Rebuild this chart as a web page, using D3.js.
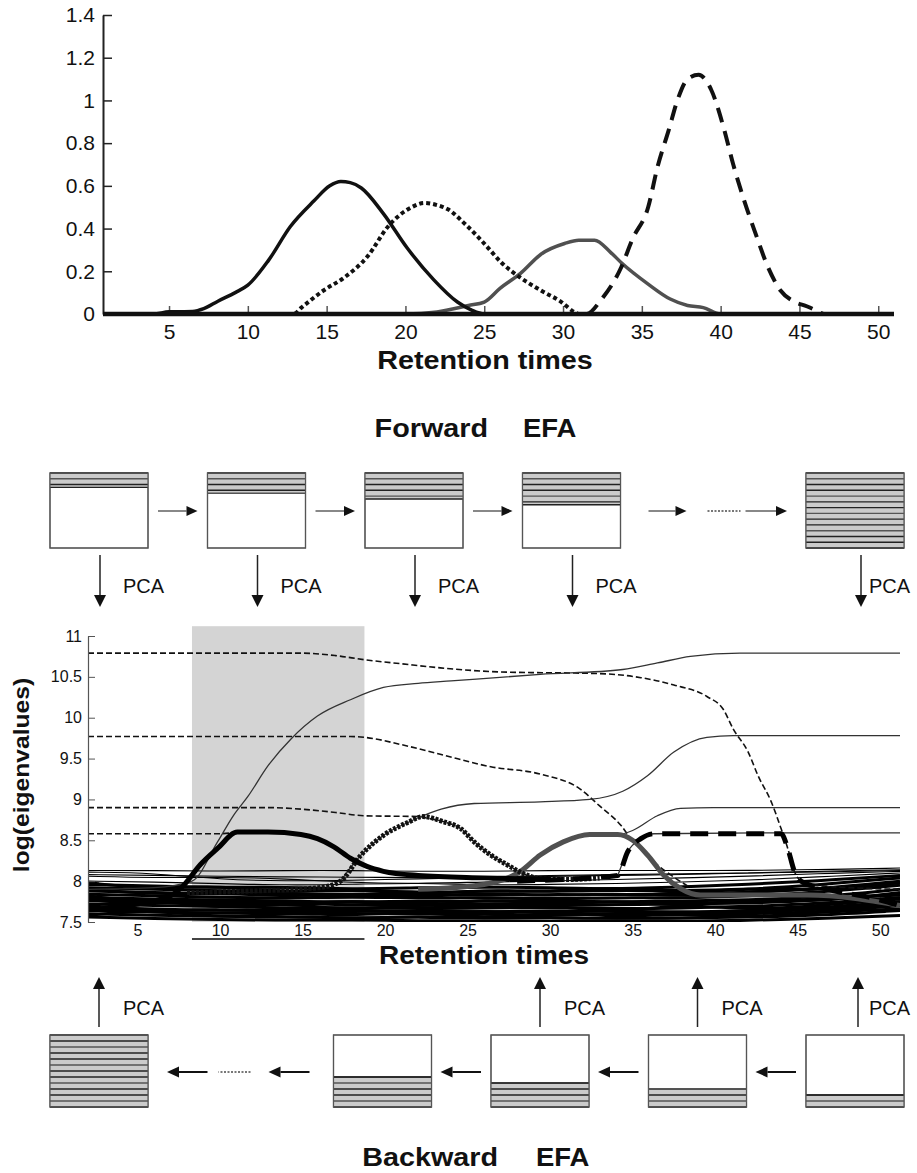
<!DOCTYPE html>
<html>
<head>
<meta charset="utf-8">
<script src="https://cdnjs.cloudflare.com/ajax/libs/d3/7.8.5/d3.min.js"></script>
<style>
  body { margin: 0; background: #fff; }
  text { font-family: "Liberation Sans", Arial, sans-serif; fill: #111; }
</style>
</head>
<body>
<svg id="fig" width="917" height="1173"></svg>
<script>
// ---------- data: concentration profiles (top panel) ----------
var topXTicks = [5, 10, 15, 20, 25, 30, 35, 40, 45, 50];
var topYTicks = [0, 0.2, 0.4, 0.6, 0.8, 1, 1.2, 1.4];

var prof1 = [[1,0],[4,0],[5,0.01],[6.5,0.012],[7.2,0.025],[8.1,0.06],[9.2,0.1],[10,0.135],[11.3,0.25],[12.7,0.41],
  [14.2,0.53],[15.2,0.6],[15.9,0.62],[16.5,0.615],[17.2,0.59],[18.6,0.47],[20.1,0.31],[21.8,0.16],
  [23.3,0.056],[24.2,0.018],[25,0],[51,0]];
var prof2 = [[1,0],[12.9,0],[13.4,0.03],[14.8,0.11],[16.1,0.17],[17.6,0.27],[18.9,0.41],[20.4,0.5],
  [21.2,0.52],[22,0.51],[22.7,0.49],[23.8,0.42],[25,0.33],[26.1,0.24],[27.3,0.17],[28.6,0.11],
  [29.9,0.056],[30.7,0.01],[31,0]];
var prof3 = [[1,0],[20,0],[22,0.01],[24,0.04],[25,0.056],[26,0.12],[27.3,0.19],[28.6,0.28],[30.1,0.33],
  [31,0.345],[32,0.345],[33,0.29],[33.7,0.24],[35.4,0.14],[36.8,0.07],[37.9,0.04],[38.9,0.03],[40,0],[41,0]];
var prof4 = [[1,0],[31.5,0],[32.4,0.065],[33.7,0.22],[34.4,0.35],[35.4,0.5],[36,0.69],[36.7,0.86],
  [37.3,1.01],[37.9,1.1],[38.6,1.12],[39.4,1.05],[40.2,0.87],[40.8,0.7],[41.5,0.53],[42.2,0.38],
  [43,0.22],[43.8,0.11],[44.6,0.06],[45.5,0.035],[46.5,0]];

// ---------- data: EFA eigenvalue plot ----------
var efaXTicks = [5, 10, 15, 20, 25, 30, 35, 40, 45, 50];
var efaYTicks = [7.5, 8, 8.5, 9, 9.5, 10, 10.5, 11];
var shadeWindow = [8.3, 18.75];

// forward EFA (thin solid)
var fwd1 = [[2,7.9],[6,7.92],[8.3,8.0],[9.85,8.48],[10.8,8.8],[11.7,9.04],[12.9,9.41],[14.3,9.74],
  [15.9,10.02],[17.9,10.22],[19.9,10.37],[22,10.42],[24,10.45],[29.4,10.53],[34.4,10.59],[36.5,10.67],
  [38.5,10.75],[41.5,10.79],[51.2,10.79]];
var fwd2 = [[17.3,8.0],[18.5,8.31],[19.9,8.56],[21.4,8.72],[22.3,8.8],[23.4,8.88],[25.4,8.95],[29.4,8.97],
  [32.4,9.0],[34.4,9.1],[35.9,9.29],[37.5,9.58],[39.5,9.76],[41.1,9.78],[51.2,9.78]];
var fwd3 = [[28.2,8.12],[29.4,8.32],[30.8,8.48],[32.4,8.56],[34.1,8.57],[35,8.62],[36.5,8.8],[37.9,8.89],
  [39.9,8.9],[51.2,8.9]];
var fwd4 = [[34.1,8.07],[34.7,8.36],[35.5,8.52],[36.3,8.58],[44,8.59],[51.2,8.59]];

// backward EFA (thin dashed)
var bwd1 = [[2,10.79],[15,10.79],[17,10.76],[18.75,10.71],[21,10.66],[23.35,10.61],[27,10.56],[33,10.54],
  [35.5,10.49],[37.5,10.4],[39.5,10.26],[40.5,10.1],[41.1,9.86],[42,9.58],[42.6,9.29],[43.4,8.97],
  [44,8.64],[44.4,8.4],[44.8,8.12],[45.2,8.0],[46,7.95],[51.2,7.9]];
var bwd2 = [[2,9.77],[17.9,9.77],[18.75,9.76],[21,9.67],[23.4,9.55],[26.4,9.4],[29.4,9.31],[31.8,9.13],
  [33,8.92],[34.3,8.68],[34.9,8.52],[35.5,8.42],[36.5,8.2],[37.5,8.05],[38.5,7.92]];
var bwd3 = [[2,8.9],[13,8.9],[15,8.88],[17,8.84],[18.75,8.8],[22.1,8.79],[22.6,8.77],[23.5,8.73],
  [24.6,8.64],[25.4,8.48],[26.4,8.32],[27.4,8.2],[28.4,8.09],[29.4,8.03]];
var bwd4 = [[2,8.58],[9.9,8.58],[11.05,8.6]];

// thick highlighted profiles
var efa1 = [[2,7.65],[5,7.72],[7,7.82],[7.8,7.95],[8.8,8.2],[9.85,8.4],[11.05,8.6],[12.9,8.6],[14.9,8.57],
  [15.9,8.52],[16.9,8.42],[17.9,8.28],[18.9,8.18],[19.9,8.12],[22,8.07],[26,8.04],[30,8.02]];
var efa2 = [[8,7.86],[12,7.88],[16,7.92],[17.3,8.0],[18.5,8.31],[19.9,8.56],[21.4,8.72],[22.3,8.79],
  [23.5,8.73],[24.6,8.64],[25.4,8.48],[26.4,8.32],[27.4,8.2],[28.4,8.09],[29.4,8.03],[31,8.02],[33,8.04]];
var efa3 = [[22,7.9],[26,7.96],[28.2,8.12],[29.4,8.32],[30.8,8.48],[32.4,8.57],[34.1,8.57],[35,8.5],
  [35.9,8.32],[36.9,8.07],[37.9,7.91],[39.1,7.83],[45.6,7.83],[51.2,7.7]];
var efa4 = [[28,8.0],[34.1,8.07],[34.7,8.36],[35.5,8.52],[36.3,8.58],[44,8.58],[44.4,8.4],[44.8,8.12],
  [45.2,8.0],[46.6,7.91],[49.6,7.79],[51.2,7.7]];

// noise eigenvalues (band near the bottom)
var noiseT = [2, 6, 10, 14, 18, 22, 26, 30, 34, 38, 42, 46, 51.2];
var noiseLines = [
  [8.13,8.13,8.12,8.13,8.13,8.12,8.12,8.13,8.13,8.13,8.13,8.14,8.16],
  [8.11,8.1,8.02,8.0,8.01,8.03,8.04,8.06,8.07,8.08,8.1,8.12,8.14],
  [8.08,8.07,8.06,8.05,8.05,8.04,8.05,8.07,8.08,8.09,8.1,8.11,8.13],
  [8.06,8.04,8.05,8.03,7.98,7.97,7.99,8.0,8.02,8.04,8.06,8.09,8.12],
  [8.0,7.99,7.97,7.95,7.96,7.98,7.95,7.96,7.97,7.99,8.01,8.05,8.1],
  [7.98,7.9,7.95,7.85,7.92,7.82,7.9,7.86,7.94,7.84,7.92,7.88,7.98],
  [7.96,7.94,7.92,7.93,7.9,7.92,7.93,7.92,7.9,7.93,7.96,8.0,8.07],
  [7.92,7.9,7.88,7.87,7.89,7.86,7.88,7.87,7.89,7.88,7.9,7.95,8.04],
  [7.9,7.84,7.86,7.81,7.85,7.8,7.86,7.82,7.85,7.81,7.87,7.9,7.98],
  [7.88,7.86,7.84,7.85,7.83,7.85,7.82,7.84,7.83,7.85,7.86,7.9,8.0],
  [7.84,7.82,7.8,7.79,7.81,7.79,7.8,7.78,7.8,7.79,7.82,7.86,7.95],
  [7.82,7.72,7.8,7.68,7.78,7.66,7.8,7.7,7.77,7.68,7.79,7.74,7.86],
  [7.8,7.78,7.77,7.76,7.74,7.76,7.75,7.77,7.74,7.76,7.77,7.8,7.9],
  [7.78,7.75,7.74,7.72,7.76,7.73,7.71,7.74,7.75,7.72,7.74,7.78,7.83],
  [7.76,7.74,7.72,7.73,7.71,7.7,7.72,7.7,7.71,7.72,7.73,7.76,7.85],
  [7.7,7.78,7.66,7.75,7.62,7.74,7.65,7.72,7.6,7.73,7.64,7.7,7.78],
  [7.72,7.7,7.69,7.67,7.68,7.66,7.67,7.68,7.66,7.67,7.69,7.72,7.8],
  [7.68,7.66,7.64,7.65,7.63,7.64,7.62,7.64,7.63,7.62,7.64,7.67,7.75],
  [7.66,7.63,7.66,7.62,7.66,7.61,7.64,7.61,7.65,7.6,7.62,7.65,7.72],
  [7.64,7.62,7.61,7.6,7.61,7.59,7.6,7.58,7.6,7.59,7.6,7.62,7.7],
  [7.58,7.66,7.54,7.62,7.57,7.64,7.53,7.63,7.56,7.6,7.55,7.62,7.66],
  [7.6,7.58,7.57,7.56,7.55,7.56,7.55,7.56,7.54,7.55,7.56,7.58,7.64],
  [7.56,7.54,7.53,7.52,7.53,7.51,7.52,7.51,7.52,7.51,7.52,7.54,7.58]
];

// ---------- data: EFA scheme (sub-matrices) ----------
var stepSlot = [0, 1, 2, 3, 4.8];       // last slot = full matrix, after the "....."
var fwdRows = [2.5, 3.5, 4.5, 5.5, 13]; // rows used (of 13) for forward steps
var bwdRows = [2, 3, 4, 5, 12];         // rows used (of 12) for backward steps, right to left
var bwdPCA = [true, true, true, false, true];

var svg = d3.select("#fig");

function stretch(sel, k) {
  sel.each(function () {
    var w = this.getComputedTextLength();
    d3.select(this).attr("textLength", w * k).attr("lengthAdjust", "spacingAndGlyphs");
  });
}
function bold(x, y, s, anchor) {
  return svg.append("text").attr("x", x).attr("y", y).attr("text-anchor", anchor || "middle")
    .attr("font-size", 25).attr("font-weight", "bold").text(s);
}

// ================= top panel =================
var xTop = d3.scaleLinear().domain([1, 51]).range([106, 894]);
var yTop = d3.scaleLinear().domain([0, 1.4]).range([314, 15]);

var gx = svg.append("g").attr("transform", "translate(0,314)")
  .call(d3.axisBottom(xTop).tickValues(topXTicks).tickSize(-8).tickPadding(10).tickFormat(String));
gx.select(".domain").remove();
gx.selectAll(".tick line").attr("stroke", "#555").attr("stroke-width", 1.5);
gx.selectAll("text").attr("font-size", 21).attr("font-family", "Liberation Sans").attr("fill", "#111");

var gy = svg.append("g").attr("transform", "translate(103,0)")
  .call(d3.axisLeft(yTop).tickValues(topYTicks).tickSizeInner(-9).tickSizeOuter(0).tickPadding(8).tickFormat(String));
gy.select(".domain").attr("stroke", "#222").attr("stroke-width", 2);
gy.selectAll(".tick line").attr("stroke", "#222").attr("stroke-width", 1.5);
gy.selectAll("text").attr("font-size", 21).attr("font-family", "Liberation Sans").attr("fill", "#111");

var lineTop = d3.line().x(function (d) { return xTop(d[0]); }).y(function (d) { return yTop(d[1]); })
  .curve(d3.curveMonotoneX);

svg.append("path").datum(prof3).attr("d", lineTop).attr("fill", "none")
  .attr("stroke", "#505050").attr("stroke-width", 3.5);
svg.append("path").datum(prof2).attr("d", lineTop).attr("fill", "none")
  .attr("stroke", "#111").attr("stroke-width", 4).attr("stroke-dasharray", "4,3");
svg.append("path").datum(prof1).attr("d", lineTop).attr("fill", "none")
  .attr("stroke", "#111").attr("stroke-width", 3.5);
svg.append("path").datum(prof4).attr("d", lineTop).attr("fill", "none")
  .attr("stroke", "#111").attr("stroke-width", 4).attr("stroke-dasharray", "15,9");
svg.append("line").attr("x1", 103).attr("x2", 894).attr("y1", yTop(0)).attr("y2", yTop(0))
  .attr("stroke", "#111").attr("stroke-width", 4.5);

stretch(bold(485, 369, "Retention times"), 1.15);

// ================= scheme helpers =================
function hArrow(x1, x2, y, head, shaft) {
  var dir = x2 > x1 ? 1 : -1;
  svg.append("line").attr("x1", x1).attr("x2", x2 - dir * head).attr("y1", y).attr("y2", y)
    .attr("stroke", shaft).attr("stroke-width", 2);
  svg.append("path").attr("fill", "#111")
    .attr("d", "M" + x2 + "," + y + "L" + (x2 - dir * head) + "," + (y - head * 0.45) + "L" + (x2 - dir * head) + "," + (y + head * 0.45) + "Z");
}
function vArrow(x, y1, y2, head) {
  var dir = y2 > y1 ? 1 : -1;
  svg.append("line").attr("x1", x).attr("x2", x).attr("y1", y1).attr("y2", y2 - dir * head)
    .attr("stroke", "#222").attr("stroke-width", 1.5);
  svg.append("path").attr("fill", "#111")
    .attr("d", "M" + x + "," + y2 + "L" + (x - head * 0.5) + "," + (y2 - dir * head) + "L" + (x + head * 0.5) + "," + (y2 - dir * head) + "Z");
}
function dots(x1, x2, y) {
  svg.append("line").attr("x1", x1).attr("x2", x2).attr("y1", y).attr("y2", y)
    .attr("stroke", "#777").attr("stroke-width", 2).attr("stroke-dasharray", "2,1.5");
}
function box(x, y, w, h, nRows, used, fromTop) {
  var rh = h / nRows, fh = used * rh;
  var fy = fromTop ? y : y + h - fh;
  svg.append("rect").attr("x", x).attr("y", y).attr("width", w).attr("height", h)
    .attr("fill", "#fff").attr("stroke", "#666").attr("stroke-width", 1.2);
  svg.append("rect").attr("x", x).attr("y", fy).attr("width", w).attr("height", fh).attr("fill", "#cbcbcb");
  var ys = d3.range(0, Math.floor(used) + 1).map(function (i) { return fromTop ? y + i * rh : y + h - i * rh; });
  ys.push(fromTop ? y + fh : y + h - fh);
  svg.selectAll(null).data(ys).enter().append("line")
    .attr("x1", x).attr("x2", x + w).attr("y1", function (d) { return d; }).attr("y2", function (d) { return d; })
    .attr("stroke", function (d, i) { return i % 3 === 1 ? "#555" : "#222"; }).attr("stroke-width", 1.4);
  svg.append("rect").attr("x", x).attr("y", y).attr("width", w).attr("height", h)
    .attr("fill", "none").attr("stroke", "#555").attr("stroke-width", 1.2);
}
function pca(x, y) {
  svg.append("text").attr("x", x).attr("y", y).attr("font-size", 20).text("PCA");
}

// ================= forward EFA scheme =================
var boxW = 98;
var xFwd = d3.scaleLinear().domain([0, 1]).range([50, 207.5]);
stretch(bold(488, 437, "Forward", "end"), 1.15);
stretch(bold(523, 437, "EFA", "start"), 1.1);

fwdRows.forEach(function (r, i) {
  var x = xFwd(stepSlot[i]);
  var last = i === fwdRows.length - 1;
  box(x, 473, boxW, 75, 13, r, true);
  vArrow(x + boxW / 2 + (last ? 6 : 1), 555, 607, 12);
  pca(x + boxW / 2 + (last ? 14 : 24), 593);
});
[0, 1, 2].forEach(function (i) {
  hArrow(xFwd(stepSlot[i]) + boxW + 10, xFwd(stepSlot[i + 1]) - 10, 511, 11, "#888");
});
var r3 = xFwd(stepSlot[3]) + boxW, l4 = xFwd(stepSlot[4]);
hArrow(r3 + 28, r3 + 66, 511, 11, "#888");
dots(r3 + 87, r3 + 120, 511);
hArrow(r3 + 125, l4 - 19, 511, 11, "#888");

// ================= EFA eigenvalue plot =================
var xE = d3.scaleLinear().domain([2, 51.2]).range([88, 900]);
var yE = d3.scaleLinear().domain([7.5, 11]).range([922, 636]);

svg.append("clipPath").attr("id", "efaClip").append("rect")
  .attr("x", 88).attr("y", 620).attr("width", 812).attr("height", 302);

svg.append("rect").attr("x", xE(shadeWindow[0])).attr("y", yE(11.12))
  .attr("width", xE(shadeWindow[1]) - xE(shadeWindow[0])).attr("height", yE(7.5) - yE(11.12))
  .attr("fill", "#d4d4d4");

var plot = svg.append("g").attr("clip-path", "url(#efaClip)");
var lineE = d3.line().x(function (d) { return xE(d[0]); }).y(function (d) { return yE(d[1]); })
  .curve(d3.curveMonotoneX);
var lineN = d3.line().x(function (d, i) { return xE(noiseT[i]); }).y(function (d) { return yE(d); })
  .curve(d3.curveBasis);

plot.selectAll(".noise").data(noiseLines).enter().append("path").attr("class", "noise")
  .attr("d", lineN).attr("fill", "none").attr("stroke", "#000")
  .attr("stroke-width", function (d, i) { return i < 5 ? 1.1 : 3; });

[bwd1, bwd2, bwd3, bwd4].forEach(function (s) {
  plot.append("path").datum(s).attr("d", lineE).attr("fill", "none")
    .attr("stroke", "#111").attr("stroke-width", 1.6).attr("stroke-dasharray", "6,3");
});
[fwd1, fwd2, fwd3, fwd4].forEach(function (s) {
  plot.append("path").datum(s).attr("d", lineE).attr("fill", "none")
    .attr("stroke", "#333").attr("stroke-width", 1.3);
});
plot.append("path").datum(efa3).attr("d", lineE).attr("fill", "none")
  .attr("stroke", "#505050").attr("stroke-width", 5);
plot.append("path").datum(efa2).attr("d", lineE).attr("fill", "none")
  .attr("stroke", "#111").attr("stroke-width", 5).attr("stroke-dasharray", "3,1.5");
plot.append("path").datum(efa1).attr("d", lineE).attr("fill", "none")
  .attr("stroke", "#000").attr("stroke-width", 5);
plot.append("path").datum(efa4).attr("d", lineE).attr("fill", "none")
  .attr("stroke", "#000").attr("stroke-width", 5).attr("stroke-dasharray", "18,10");

var ey = svg.append("g").attr("transform", "translate(88,0)")
  .call(d3.axisLeft(yE).tickValues(efaYTicks).tickSizeInner(-7).tickSizeOuter(0).tickPadding(6).tickFormat(String));
ey.select(".domain").attr("stroke", "#555").attr("stroke-width", 1.2);
ey.selectAll(".tick line").attr("stroke", "#555");
ey.selectAll("text").attr("font-size", 16).attr("font-family", "Liberation Sans").attr("fill", "#111");

var ex = svg.append("g").attr("transform", "translate(0,922)")
  .call(d3.axisBottom(xE).tickValues(efaXTicks).tickSize(0).tickPadding(3).tickFormat(String));
ex.select(".domain").remove();
ex.selectAll("text").attr("font-size", 16).attr("font-family", "Liberation Sans").attr("fill", "#111");

svg.append("line").attr("x1", xE(shadeWindow[0])).attr("x2", xE(shadeWindow[1]))
  .attr("y1", 939).attr("y2", 939).attr("stroke", "#444").attr("stroke-width", 2);

stretch(bold(484, 964, "Retention times"), 1.12);
var yl = svg.append("text").attr("transform", "translate(29,775) rotate(-90)")
  .attr("text-anchor", "middle").attr("font-size", 22).attr("font-weight", "bold").text("log(eigenvalues)");
stretch(yl, 1.12);

// ================= backward EFA scheme =================
var xBwd = d3.scaleLinear().domain([0, 1]).range([806, 648.5]);
bwdRows.forEach(function (r, i) {
  var x = xBwd(stepSlot[i]);
  var first = i === 0;
  box(x, 1035, boxW, 72, 12, r, false);
  if (bwdPCA[i]) {
    vArrow(x + boxW / 2 + (first ? 3 : 0), 1027, 977, 12);
    pca(x + boxW / 2 + (first ? 14 : 24), 1015);
  }
});
[0, 1, 2].forEach(function (i) {
  hArrow(xBwd(stepSlot[i]) - 10, xBwd(stepSlot[i + 1]) + boxW + 9, 1072, 12, "#111");
});
var l3 = xBwd(stepSlot[3]), r4 = xBwd(stepSlot[4]) + boxW;
hArrow(l3 - 24, l3 - 65, 1072, 12, "#111");
dots(l3 - 83, l3 - 115, 1072);
hArrow(l3 - 126, r4 + 19, 1072, 12, "#111");

stretch(bold(498, 1166, "Backward", "end"), 1.15);
stretch(bold(536, 1166, "EFA", "start"), 1.1);
</script>
</body>
</html>
